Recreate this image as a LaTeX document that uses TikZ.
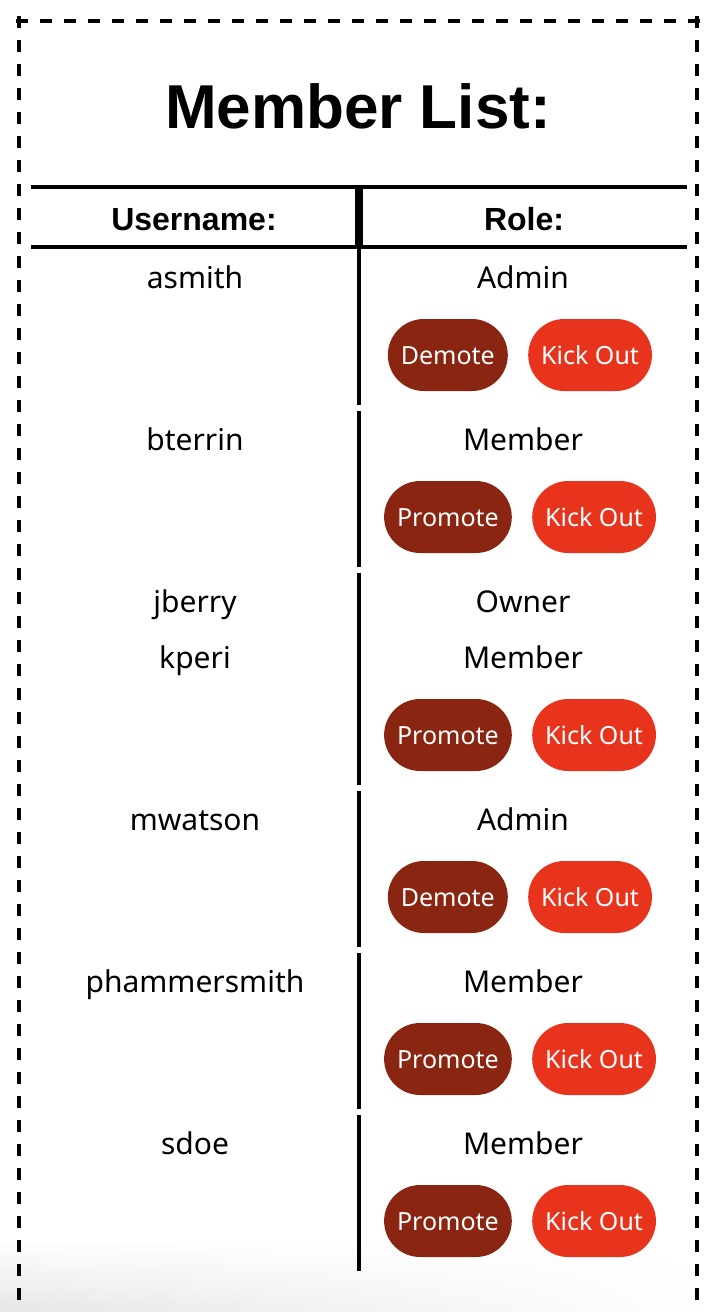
\documentclass[tikz,border=0pt]{standalone}
\usepackage{fontspec}
\setmainfont{Noto Sans}
\newfontfamily\headfont{Liberation Sans}
\usepackage{xcolor}
\usetikzlibrary{positioning, fadings}

\definecolor{btndark}{RGB}{137,37,17}
\definecolor{btnred}{RGB}{232,52,28}
\tikzfading[name=faderight, left color=transparent!0, right color=transparent!100]

\tikzset{
    cell/.style = {font=\fontsize{30}{36}\selectfont, inner sep=0pt, anchor=base},
    head/.style = {font=\fontsize{32}{38}\selectfont\headfont\bfseries, inner sep=0pt, anchor=base},
    btn/.style = {rounded corners=36pt, minimum height=72pt, inner xsep=13pt,
                  text height=18pt, text depth=0pt, text=white,
                  font=\fontsize{25}{30}\selectfont},
    demote/.style = {btn, fill=btndark},
    kick/.style = {btn, fill=btnred},
    rule/.style = {line width=4pt},
    border/.style = {line width=4pt, dash pattern=on 12pt off 12pt},
}

\begin{document}
\begin{tikzpicture}[x=1pt, y=-1pt]
    \useasboundingbox (0,0) rectangle (714,1312);
    \shade[top color=white, bottom color=black!10, path fading=faderight] (0,1240) rectangle (714,1312);

    % dashed frame
    \draw[border] (19,16) -- (19,1320);
    \draw[border] (16,21) -- (700,21);
    \draw[border] (697,16) -- (697,1320);

    \node[font=\fontsize{62}{74}\selectfont\headfont\bfseries, anchor=base] (title) at (358,128) {Member List:};

    % header
    \draw[rule] (31,187) -- (687,187);
    \draw[rule] (31,247) -- (687,247);
    \draw[line width=8pt] (359,185) -- (359,249);
    \node[head] (user) at (194,230) {Username:};
    \node[head] (role) at (524,230) {Role:};

    % column divider
    \draw[rule] (359,249) -- (359,405) (359,411) -- (359,567) (359,573) -- (359,785)
        (359,791) -- (359,947) (359,953) -- (359,1109) (359,1115) -- (359,1271);

    \node[cell] (u1) at (195,288) {asmith};
    \node[cell] (r1) at (523,288) {Admin};
    \node[demote, anchor=east] (a1) at (508,355) {Demote};
    \node[kick, right=20pt of a1] (k1) {Kick Out};

    \node[cell] (u2) at (195,450) {bterrin};
    \node[cell] (r2) at (523,450) {Member};
    \node[demote, anchor=east] (a2) at (512,517) {Promote};
    \node[kick, right=20pt of a2] (k2) {Kick Out};

    \node[cell] (u3) at (195,612) {jberry};
    \node[cell] (r3) at (523,612) {Owner};

    \node[cell] (u4) at (195,668) {kperi};
    \node[cell] (r4) at (523,668) {Member};
    \node[demote, anchor=east] (a4) at (512,735) {Promote};
    \node[kick, right=20pt of a4] (k4) {Kick Out};

    \node[cell] (u5) at (195,830) {mwatson};
    \node[cell] (r5) at (523,830) {Admin};
    \node[demote, anchor=east] (a5) at (508,897) {Demote};
    \node[kick, right=20pt of a5] (k5) {Kick Out};

    \node[cell] (u6) at (195,992) {phammersmith};
    \node[cell] (r6) at (523,992) {Member};
    \node[demote, anchor=east] (a6) at (512,1059) {Promote};
    \node[kick, right=20pt of a6] (k6) {Kick Out};

    \node[cell] (u7) at (195,1154) {sdoe};
    \node[cell] (r7) at (523,1154) {Member};
    \node[demote, anchor=east] (a7) at (512,1221) {Promote};
    \node[kick, right=20pt of a7] (k7) {Kick Out};
\end{tikzpicture}
\end{document}
